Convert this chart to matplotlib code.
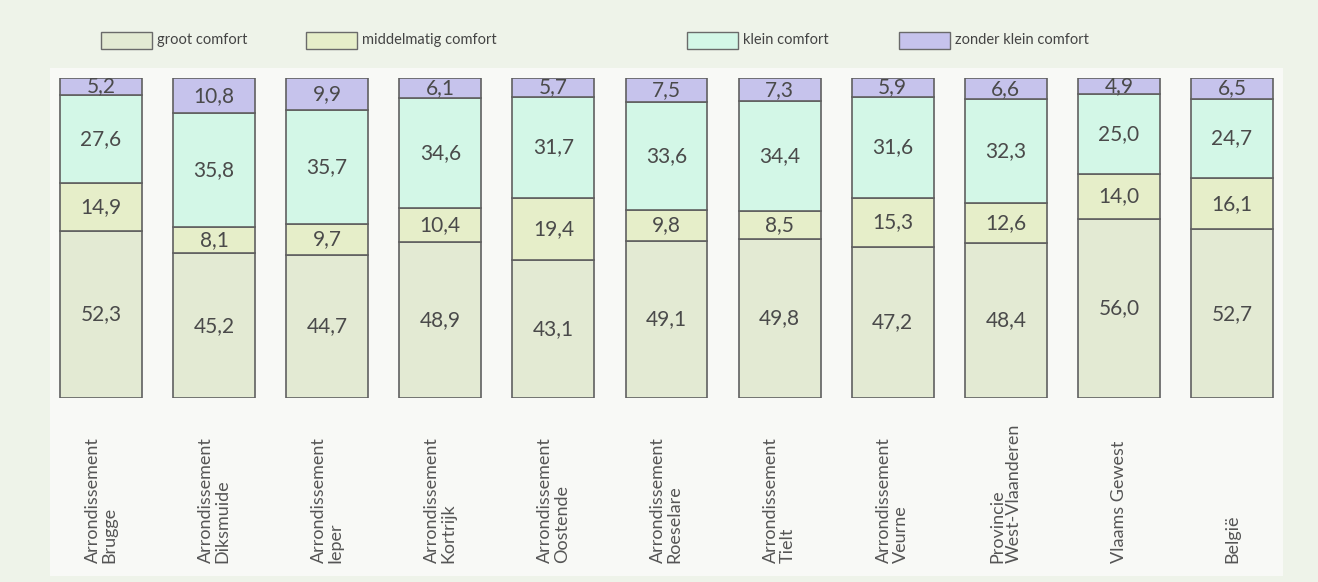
import matplotlib
matplotlib.use("Agg")
import matplotlib.pyplot as plt
from matplotlib.patches import Rectangle
import numpy as np

plt.rcParams['font.family'] = ['Lato', 'DejaVu Sans']

regions = ["Arrondissement\nBrugge", "Arrondissement\nDiksmuide", "Arrondissement\nIeper",
           "Arrondissement\nKortrijk", "Arrondissement\nOostende", "Arrondissement\nRoeselare",
           "Arrondissement\nTielt", "Arrondissement\nVeurne", "Provincie\nWest-Vlaanderen",
           "Vlaams Gewest", "België"]
groot = [52.3, 45.2, 44.7, 48.9, 43.1, 49.1, 49.8, 47.2, 48.4, 56.0, 52.7]
middel = [14.9, 8.1, 9.7, 10.4, 19.4, 9.8, 8.5, 15.3, 12.6, 14.0, 16.1]
klein = [27.6, 35.8, 35.7, 34.6, 31.7, 33.6, 34.4, 31.6, 32.3, 25.0, 24.7]
zonder = [5.2, 10.8, 9.9, 6.1, 5.7, 7.5, 7.3, 5.9, 6.6, 4.9, 6.5]

series = [("groot comfort", groot, "#e3ead3"),
          ("middelmatig comfort", middel, "#e6eec9"),
          ("klein comfort", klein, "#d3f7e7"),
          ("zonder klein comfort", zonder, "#c6c3ec")]

W, H = 1318, 582
fig = plt.figure(figsize=(W / 100, H / 100), dpi=100, facecolor="#eef3e9")
# lighter inner panel
fig.patches.append(Rectangle((50 / W, (H - 576) / H), 1233 / W, 508 / H,
                             transform=fig.transFigure, facecolor="#f8f9f6",
                             edgecolor="none", zorder=-5))

ax = fig.add_axes([0, (H - 398) / H, 1, 320 / H], zorder=2)
ax.set_facecolor("none")
step = 113.1
ax.set_xlim(-101 / step, (W - 101) / step)
ax.set_ylim(0, 100)
ax.axis("off")

x = np.arange(len(regions))
bottom = np.zeros(len(regions))
for name, vals, col in series:
    vals = np.array(vals)
    ax.bar(x, vals, bottom=bottom, width=0.725, color=col, edgecolor="#606060", linewidth=1.2)
    for xi, b, v in zip(x, bottom, vals):
        ax.text(xi, b + v / 2, f"{v:.1f}".replace(".", ","), ha="center", va="center",
                fontsize=15, color="#4a4a4a")
    bottom += vals

# category labels
for xi, lab in zip(x, regions):
    px = 101 + xi * step
    fig.text(px / W, (H - 563) / H, lab, rotation=90, ha="center", va="bottom",
             fontsize=13, color="#555555", multialignment="left", linespacing=1.05)

# legend
leg = [(101, "groot comfort"), (306, "middelmatig comfort"), (687, "klein comfort"),
       (899, "zonder klein comfort")]
for (lx, txt), (_, _, col) in zip(leg, series):
    fig.patches.append(Rectangle((lx / W, (H - 49) / H), 51 / W, 17 / H,
                                 transform=fig.transFigure, facecolor=col,
                                 edgecolor="#6a6a6a", linewidth=1))
    fig.text((lx + 56) / W, (H - 40) / H, txt, ha="left", va="center", fontsize=10.5,
             color="#444444")

fig.savefig("out.png", dpi=100, facecolor=fig.get_facecolor())
